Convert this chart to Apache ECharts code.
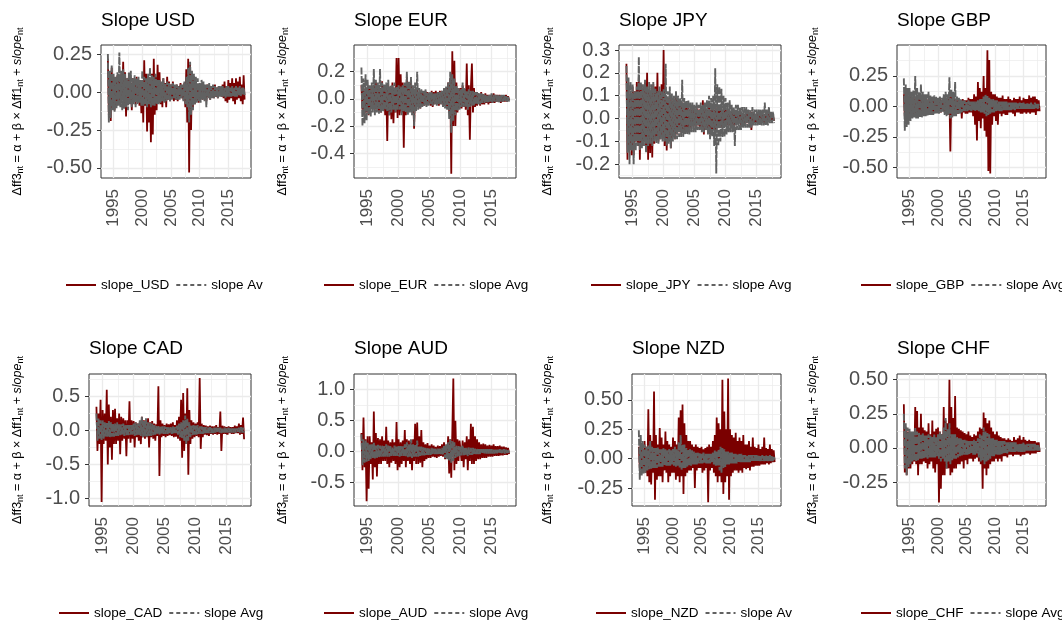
<!DOCTYPE html>
<html>
<head>
<meta charset="utf-8">
<script src="https://cdn.jsdelivr.net/npm/echarts@6/dist/echarts.min.js"></script>
<style>
html,body{margin:0;padding:0;background:#fff;}
#chart{width:1062px;height:623px;}
</style>
</head>
<body>
<div id="chart"></div>
<script>
// ---------- DATA ----------
// bimonthly observation dates, 1994 .. 2017 (6 per year)
const dates = [];
for (let y = 1994; y <= 2017; y++) { for (let k = 0; k < 6; k++) dates.push(y + k / 6); }

const currencies = ['USD', 'EUR', 'JPY', 'GBP', 'CAD', 'AUD', 'NZD', 'CHF'];
const xTicks = [1995, 2000, 2005, 2010, 2015];
const xMinor = [1997.5, 2002.5, 2007.5, 2012.5, 2017.5];

// one row per year, 1994 .. 2017
const slopeUSD = [
 0.22,-0.15,0.12,-0.19,0.16,-0.10,  0.10,-0.12,0.07,-0.09,0.11,-0.06,  0.08,-0.07,0.12,-0.05,0.20,-0.09,
 0.13,-0.16,0.09,-0.08,0.11,-0.07,  0.06,-0.12,0.09,-0.05,0.07,-0.08,  0.10,-0.06,0.05,-0.09,0.08,-0.14,
 0.07,-0.20,0.21,-0.09,0.12,-0.26,  0.10,-0.20,0.08,-0.33,0.12,-0.28,  0.22,-0.15,0.10,-0.12,0.18,-0.07,
 0.13,-0.08,0.06,-0.10,0.09,-0.05,  0.06,-0.10,0.10,-0.05,0.07,-0.06,  0.05,-0.04,0.07,-0.06,0.04,-0.05,
 0.05,-0.06,0.04,-0.03,0.06,-0.04,  0.04,-0.05,0.06,-0.10,0.15,-0.20,  0.22,-0.53,0.18,-0.25,0.12,-0.10,
 0.10,-0.08,0.07,-0.06,0.05,-0.07,  0.05,-0.04,0.06,-0.05,0.04,-0.04,  0.04,-0.06,0.05,-0.03,0.04,-0.05,
 0.04,-0.03,0.03,-0.04,0.05,-0.03,  0.03,-0.04,0.04,-0.02,0.03,-0.03,  0.05,-0.04,0.07,-0.06,0.04,-0.07,
 0.08,-0.05,0.06,-0.04,0.09,-0.06,  0.06,-0.08,0.09,-0.05,0.07,-0.04,  0.10,-0.06,0.05,-0.08,0.11,-0.05];
const avgUSD = [
 0.25,-0.20,0.14,-0.17,0.18,-0.12,  0.12,-0.13,0.10,-0.11,0.13,-0.09,  0.26,-0.10,0.14,-0.12,0.15,-0.11,
 0.12,-0.10,0.09,-0.12,0.13,-0.08,  0.14,-0.10,0.09,-0.08,0.11,-0.10,  0.09,-0.08,0.10,-0.07,0.08,-0.09,
 0.14,-0.09,0.10,-0.08,0.09,-0.10,  0.12,-0.08,0.16,-0.10,0.11,-0.09,  0.10,-0.09,0.12,-0.08,0.08,-0.08,
 0.08,-0.07,0.07,-0.06,0.09,-0.07,  0.06,-0.06,0.07,-0.05,0.06,-0.06,  0.05,-0.05,0.06,-0.04,0.05,-0.05,
 0.05,-0.05,0.04,-0.05,0.05,-0.04,  0.05,-0.06,0.07,-0.08,0.10,-0.10,  0.16,-0.20,0.20,-0.15,0.14,-0.12,
 0.12,-0.08,0.10,-0.07,0.09,-0.06,  0.06,-0.07,0.08,-0.05,0.07,-0.06,  0.05,-0.10,0.05,-0.04,0.06,-0.05,
 0.04,-0.04,0.05,-0.04,0.04,-0.03,  0.03,-0.04,0.04,-0.03,0.04,-0.03,  0.04,-0.03,0.03,-0.04,0.04,-0.03,
 0.04,-0.03,0.03,-0.03,0.04,-0.03,  0.03,-0.03,0.04,-0.03,0.03,-0.02,  0.04,-0.03,0.03,-0.02,0.03,-0.02];

const slopeEUR = [
 0.10,-0.08,0.06,-0.12,0.08,-0.10,  0.08,-0.12,0.09,-0.06,0.07,-0.07,  0.10,-0.08,0.12,-0.06,0.09,-0.09,
 0.08,-0.10,0.13,-0.07,0.10,-0.12,  0.09,-0.31,0.10,-0.12,0.07,-0.15,  0.12,-0.18,0.08,-0.10,0.30,-0.14,
 0.30,-0.12,0.18,-0.10,0.12,-0.36,  0.10,-0.12,0.16,-0.08,0.10,-0.09,  0.14,-0.10,0.08,-0.22,0.07,-0.08,
 0.07,-0.06,0.05,-0.07,0.06,-0.05,  0.05,-0.05,0.06,-0.04,0.05,-0.04,  0.04,-0.05,0.06,-0.06,0.05,-0.04,
 0.06,-0.04,0.05,-0.05,0.06,-0.04,  0.05,-0.06,0.07,-0.05,0.08,-0.07,  0.12,-0.10,0.15,-0.55,0.35,-0.20,
 0.28,-0.20,0.12,-0.10,0.08,-0.07,  0.08,-0.07,0.10,-0.06,0.07,-0.08,  0.26,-0.12,0.10,-0.30,0.08,0.26,
 -0.10,0.08,-0.06,0.05,-0.05,0.04,  0.04,-0.05,0.05,-0.04,0.03,-0.04,  0.04,-0.03,0.03,-0.04,0.03,-0.03,
 0.03,-0.03,0.04,-0.03,0.03,-0.02,  0.03,-0.02,0.03,-0.03,0.02,-0.02,  0.02,-0.02,0.03,-0.02,0.02,-0.01];
const avgEUR = [
 0.23,-0.20,0.15,-0.18,0.18,-0.16,  0.14,-0.12,0.10,-0.13,0.12,-0.10,  0.22,-0.12,0.14,-0.10,0.12,-0.11,
 0.22,-0.10,0.12,-0.09,0.11,-0.08,  0.12,-0.09,0.14,-0.12,0.10,-0.10,  0.10,-0.08,0.12,-0.10,0.09,-0.08,
 0.10,-0.08,0.09,-0.12,0.10,-0.09,  0.12,-0.10,0.20,-0.12,0.13,-0.10,  0.16,-0.12,0.10,-0.20,0.12,-0.09,
 0.20,-0.08,0.08,-0.07,0.07,-0.06,  0.06,-0.05,0.07,-0.06,0.05,-0.05,  0.05,-0.04,0.05,-0.05,0.04,-0.04,
 0.04,-0.05,0.05,-0.04,0.05,-0.04,  0.06,-0.06,0.08,-0.07,0.09,-0.08,  0.12,-0.15,0.20,-0.25,0.18,-0.16,
 0.15,-0.12,0.10,-0.09,0.08,-0.08,  0.07,-0.06,0.12,-0.06,0.08,-0.06,  0.06,-0.08,0.07,-0.06,0.06,-0.05,
 0.06,-0.05,0.05,-0.04,0.05,-0.04,  0.04,-0.04,0.04,-0.03,0.04,-0.03,  0.03,-0.03,0.03,-0.03,0.03,-0.02,
 0.04,-0.03,0.03,-0.02,0.03,-0.02,  0.03,-0.03,0.03,-0.02,0.03,-0.02,  0.03,-0.02,0.02,-0.02,0.02,-0.02];

const slopeJPY = [
 0.24,-0.18,0.15,-0.12,0.10,-0.16,  0.14,-0.16,0.12,-0.10,0.16,-0.12,  0.18,-0.18,0.15,-0.12,0.13,-0.10,
 0.16,-0.14,0.20,-0.18,0.12,-0.15,  0.12,-0.17,0.15,-0.11,0.14,-0.09,  0.20,-0.10,0.12,-0.09,0.15,-0.08,
 0.30,-0.12,0.10,-0.14,0.09,-0.10,  0.09,-0.13,0.08,-0.08,0.07,-0.09,  0.10,-0.07,0.08,-0.06,0.07,-0.06,
 0.07,-0.06,0.06,-0.05,0.05,-0.05,  0.05,-0.05,0.04,-0.04,0.05,-0.03,  0.04,-0.04,0.05,-0.03,0.04,-0.04,
 0.05,-0.04,0.08,-0.07,0.05,-0.04,  0.04,-0.05,0.05,-0.07,0.04,-0.05,  0.06,-0.05,0.04,-0.06,0.05,-0.04,
 0.05,-0.04,0.04,-0.04,0.04,-0.03,  0.04,-0.03,0.04,-0.03,0.03,-0.03,  0.03,-0.03,0.03,-0.03,0.03,-0.02,
 0.03,-0.02,0.03,-0.03,0.02,-0.02,  0.02,-0.02,0.03,-0.02,0.02,-0.02,  0.03,-0.05,0.03,-0.02,0.02,-0.02,
 0.02,-0.02,0.02,-0.02,0.02,-0.01,  0.02,-0.02,0.02,-0.02,0.02,-0.01,  0.02,-0.01,0.02,-0.01,0.01,-0.01];
const avgJPY = [
 0.23,-0.15,0.18,-0.20,0.16,-0.14,  0.15,-0.20,0.12,-0.14,0.14,-0.12,  0.27,-0.14,0.16,-0.13,0.15,-0.12,
 0.17,-0.15,0.14,-0.12,0.16,-0.11,  0.15,-0.12,0.16,-0.10,0.13,-0.11,  0.12,-0.11,0.14,-0.09,0.12,-0.10,
 0.13,-0.10,0.24,-0.12,0.12,-0.11,  0.14,-0.13,0.11,-0.10,0.10,-0.09,  0.12,-0.09,0.10,-0.08,0.09,-0.08,
 0.17,-0.08,0.09,-0.07,0.08,-0.07,  0.08,-0.07,0.07,-0.06,0.07,-0.06,  0.06,-0.06,0.07,-0.05,0.06,-0.05,
 0.07,-0.06,0.06,-0.06,0.07,-0.05,  0.08,-0.07,0.10,-0.09,0.09,-0.08,  0.10,-0.12,0.22,-0.24,0.15,-0.12,
 0.14,-0.10,0.13,-0.08,0.10,-0.08,  0.09,-0.07,0.07,-0.06,0.08,-0.06,  0.06,-0.06,0.05,-0.12,0.06,-0.05,
 0.06,-0.05,0.05,-0.05,0.05,-0.04,  0.05,-0.04,0.05,-0.04,0.04,-0.04,  0.04,-0.04,0.05,-0.03,0.04,-0.03,
 0.04,-0.03,0.04,-0.03,0.04,-0.03,  0.04,-0.03,0.07,-0.03,0.04,-0.03,  0.05,-0.02,0.03,-0.02,0.03,-0.02];

const slopeGBP = [
 0.10,-0.08,0.12,-0.10,0.07,-0.09,  0.08,-0.07,0.09,-0.08,0.06,-0.07,  0.07,-0.06,0.08,-0.06,0.07,-0.05,
 0.06,-0.07,0.07,-0.05,0.06,-0.06,  0.06,-0.05,0.05,-0.06,0.05,-0.04,  0.05,-0.05,0.06,-0.04,0.05,-0.05,
 0.05,-0.04,0.06,-0.05,0.05,-0.04,  0.06,-0.05,0.07,-0.06,0.06,-0.05,  0.08,-0.37,0.10,-0.08,0.07,-0.06,
 0.06,-0.07,0.05,-0.06,0.06,-0.05,  0.05,-0.10,0.06,-0.05,0.05,-0.06,  0.05,-0.06,0.07,-0.05,0.06,-0.05,
 0.06,-0.08,0.10,-0.15,0.08,-0.28,  0.20,-0.12,0.15,-0.18,0.12,-0.10,  0.25,-0.20,0.15,-0.25,0.46,-0.53,
 0.38,-0.55,0.12,-0.15,0.10,-0.08,  0.10,-0.12,0.08,-0.15,0.07,-0.06,  0.07,-0.08,0.09,-0.06,0.06,-0.07,
 0.06,-0.07,0.08,-0.05,0.06,-0.05,  0.05,-0.06,0.07,-0.08,0.06,-0.05,  0.06,-0.05,0.08,-0.06,0.05,-0.06,
 0.07,-0.05,0.06,-0.06,0.06,-0.05,  0.09,-0.06,0.07,-0.05,0.08,-0.05,  0.08,-0.07,0.06,-0.04,0.05,-0.04];
const avgGBP = [
 0.23,-0.20,0.18,-0.17,0.15,-0.15,  0.15,-0.12,0.12,-0.10,0.13,-0.09,  0.25,-0.10,0.15,-0.10,0.12,-0.09,
 0.18,-0.09,0.12,-0.08,0.10,-0.08,  0.10,-0.08,0.12,-0.07,0.09,-0.07,  0.08,-0.07,0.09,-0.06,0.08,-0.06,
 0.07,-0.06,0.08,-0.05,0.07,-0.05,  0.10,-0.07,0.12,-0.08,0.10,-0.07,  0.24,-0.10,0.14,-0.09,0.12,-0.08,
 0.20,-0.08,0.08,-0.06,0.07,-0.06,  0.06,-0.05,0.05,-0.04,0.05,-0.04,  0.04,-0.04,0.05,-0.03,0.04,-0.04,
 0.04,-0.03,0.04,-0.04,0.04,-0.03,  0.05,-0.04,0.06,-0.05,0.06,-0.05,  0.08,-0.06,0.10,-0.08,0.09,-0.07,
 0.07,-0.06,0.06,-0.05,0.06,-0.05,  0.05,-0.04,0.05,-0.04,0.04,-0.04,  0.04,-0.04,0.04,-0.03,0.04,-0.03,
 0.04,-0.03,0.03,-0.03,0.03,-0.03,  0.03,-0.03,0.03,-0.03,0.03,-0.02,  0.03,-0.02,0.03,-0.02,0.03,-0.02,
 0.03,-0.02,0.02,-0.02,0.03,-0.02,  0.02,-0.02,0.03,-0.02,0.02,-0.02,  0.03,-0.02,0.02,-0.02,0.02,-0.01];

const slopeCAD = [
 0.35,-0.30,0.25,-0.20,0.45,-1.05,  0.30,-0.20,0.25,-0.15,0.60,-0.50,  0.38,-0.25,0.20,-0.43,0.30,-0.20,
 0.32,-0.20,0.18,-0.15,0.25,-0.35,  0.20,-0.15,0.18,-0.12,0.15,-0.38,  0.15,-0.12,0.43,-0.18,0.15,-0.12,
 0.14,-0.25,0.12,-0.10,0.10,-0.15,  0.12,-0.20,0.20,-0.10,0.15,-0.12,  0.15,-0.10,0.18,-0.25,0.12,-0.10,
 0.14,-0.12,0.10,-0.15,0.09,-0.08,  0.65,-0.67,0.15,-0.10,0.10,-0.08,  0.08,-0.10,0.10,-0.08,0.09,-0.07,
 0.10,-0.08,0.12,-0.10,0.08,-0.09,  0.15,-0.12,0.20,-0.15,0.45,-0.40,  0.55,-0.30,0.25,-0.20,0.62,-0.65,
 0.30,-0.20,0.15,-0.12,0.12,-0.10,  0.10,-0.08,0.12,-0.10,0.77,-0.27,  0.10,-0.10,0.08,-0.06,0.07,-0.07,
 0.06,-0.08,0.07,-0.05,0.06,-0.06,  0.06,-0.05,0.08,-0.06,0.05,-0.05,  0.28,-0.30,0.07,-0.05,0.06,-0.05,
 0.05,-0.06,0.06,-0.04,0.05,-0.05,  0.05,-0.05,0.07,-0.04,0.06,-0.04,  0.10,-0.06,0.08,-0.05,0.19,-0.13];
const avgCAD = [
 0.25,-0.15,0.18,-0.12,0.15,-0.14,  0.15,-0.12,0.12,-0.10,0.11,-0.09,  0.14,-0.10,0.12,-0.09,0.10,-0.09,
 0.10,-0.08,0.12,-0.08,0.09,-0.07,  0.09,-0.07,0.10,-0.08,0.08,-0.07,  0.08,-0.07,0.09,-0.06,0.08,-0.06,
 0.10,-0.08,0.12,-0.07,0.10,-0.07,  0.15,-0.08,0.20,-0.10,0.14,-0.09,  0.18,-0.09,0.12,-0.08,0.11,-0.08,
 0.10,-0.07,0.08,-0.06,0.07,-0.06,  0.07,-0.06,0.06,-0.05,0.06,-0.05,  0.06,-0.05,0.05,-0.05,0.05,-0.04,
 0.05,-0.05,0.06,-0.05,0.05,-0.04,  0.07,-0.06,0.10,-0.10,0.12,-0.12,  0.15,-0.15,0.22,-0.20,0.18,-0.15,
 0.12,-0.10,0.08,-0.07,0.08,-0.06,  0.07,-0.06,0.08,-0.05,0.06,-0.05,  0.06,-0.05,0.05,-0.05,0.05,-0.04,
 0.04,-0.04,0.05,-0.04,0.04,-0.04,  0.04,-0.03,0.04,-0.03,0.04,-0.03,  0.04,-0.04,0.04,-0.03,0.04,-0.03,
 0.03,-0.03,0.04,-0.03,0.03,-0.03,  0.03,-0.03,0.03,-0.03,0.03,-0.02,  0.04,-0.03,0.05,-0.03,0.04,-0.03];

const slopeAUD = [
 0.30,-0.30,0.55,-0.25,0.20,-0.80,  0.25,-0.60,0.25,-0.20,0.15,-0.45,  0.65,-0.25,0.30,-0.40,0.22,-0.20,
 0.20,-0.20,0.25,-0.15,0.18,-0.15,  0.40,-0.20,0.18,-0.25,0.15,-0.18,  0.20,-0.15,0.15,-0.20,0.48,-0.30,
 0.20,-0.25,0.15,-0.20,0.18,-0.15,  0.35,-0.25,0.20,-0.15,0.18,-0.20,  0.18,-0.30,0.20,-0.15,0.45,-0.20,
 0.47,-0.20,0.25,-0.18,0.35,-0.25,  0.15,-0.15,0.12,-0.12,0.14,-0.10,  0.10,-0.10,0.12,-0.08,0.10,-0.09,
 0.08,-0.10,0.10,-0.08,0.09,-0.07,  0.12,-0.08,0.15,-0.12,0.10,-0.10,  0.25,-0.35,0.20,-0.42,0.30,1.18,
 -0.30,0.50,-0.20,0.20,-0.15,0.18,  0.20,-0.15,0.18,-0.25,0.15,-0.12,  0.25,-0.30,0.20,-0.15,0.45,-0.20,
 0.40,-0.20,0.25,-0.15,0.20,-0.12,  0.15,-0.12,0.12,-0.10,0.13,-0.10,  0.12,-0.10,0.10,-0.08,0.11,-0.08,
 0.10,-0.08,0.12,-0.07,0.09,-0.07,  0.09,-0.07,0.10,-0.06,0.08,-0.06,  0.08,-0.05,0.07,-0.05,0.06,-0.04];
const avgAUD = [
 0.28,-0.22,0.20,-0.18,0.18,-0.16,  0.15,-0.15,0.12,-0.12,0.12,-0.10,  0.15,-0.12,0.10,-0.10,0.11,-0.09,
 0.10,-0.08,0.10,-0.08,0.09,-0.08,  0.12,-0.08,0.10,-0.08,0.09,-0.07,  0.08,-0.07,0.10,-0.07,0.08,-0.07,
 0.10,-0.08,0.09,-0.07,0.09,-0.07,  0.12,-0.08,0.15,-0.09,0.12,-0.08,  0.20,-0.10,0.12,-0.08,0.11,-0.08,
 0.18,-0.08,0.08,-0.07,0.08,-0.06,  0.07,-0.06,0.06,-0.05,0.06,-0.05,  0.05,-0.05,0.06,-0.04,0.05,-0.04,
 0.05,-0.04,0.05,-0.05,0.05,-0.04,  0.06,-0.05,0.10,-0.10,0.12,-0.12,  0.15,-0.15,0.20,-0.18,0.18,-0.15,
 0.15,-0.10,0.10,-0.08,0.09,-0.07,  0.08,-0.06,0.10,-0.06,0.07,-0.06,  0.06,-0.07,0.07,-0.05,0.06,-0.05,
 0.06,-0.05,0.05,-0.04,0.05,-0.04,  0.04,-0.04,0.04,-0.03,0.04,-0.03,  0.04,-0.03,0.04,-0.03,0.04,-0.03,
 0.04,-0.03,0.03,-0.03,0.03,-0.03,  0.03,-0.03,0.04,-0.03,0.03,-0.02,  0.04,-0.03,0.03,-0.02,0.03,-0.02];

const slopeNZD = [
 0.10,-0.08,0.12,-0.10,0.08,-0.09,  0.15,-0.12,0.10,-0.15,0.42,-0.20,  0.20,-0.22,0.15,-0.12,0.57,-0.35,
 0.20,-0.18,0.12,-0.15,0.26,-0.15,  0.18,-0.20,0.12,-0.10,0.23,-0.12,  0.15,-0.20,0.12,-0.15,0.10,-0.12,
 0.18,-0.12,0.15,-0.18,0.12,-0.15,  0.35,-0.20,0.41,-0.15,0.46,-0.30,  0.30,-0.15,0.20,-0.12,0.15,-0.10,
 0.15,-0.10,0.12,-0.08,0.10,-0.25,  0.12,-0.10,0.10,-0.08,0.09,-0.08,  0.10,-0.12,0.08,-0.10,0.09,-0.08,
 0.10,-0.37,0.12,-0.10,0.10,-0.08,  0.15,-0.12,0.20,-0.15,0.35,-0.20,  0.30,-0.15,0.25,-0.20,0.67,-0.30,
 0.40,-0.20,0.25,-0.15,0.68,-0.35,  0.25,-0.15,0.20,-0.12,0.18,-0.10,  0.22,-0.10,0.15,-0.12,0.18,-0.10,
 0.15,-0.12,0.20,-0.08,0.12,-0.09,  0.12,-0.08,0.15,-0.10,0.10,-0.07,  0.18,-0.07,0.10,-0.06,0.09,-0.06,
 0.12,-0.06,0.08,-0.05,0.10,-0.05,  0.18,-0.05,0.09,-0.04,0.08,-0.05,  0.12,-0.04,0.08,-0.03,0.07,-0.03];
const avgNZD = [
 0.24,-0.18,0.20,-0.15,0.15,-0.13,  0.12,-0.12,0.10,-0.10,0.11,-0.09,  0.15,-0.09,0.10,-0.08,0.09,-0.08,
 0.09,-0.08,0.10,-0.07,0.08,-0.07,  0.08,-0.07,0.09,-0.06,0.08,-0.06,  0.07,-0.06,0.08,-0.06,0.07,-0.05,
 0.08,-0.06,0.10,-0.07,0.08,-0.06,  0.14,-0.08,0.20,-0.10,0.12,-0.08,  0.12,-0.08,0.09,-0.07,0.08,-0.06,
 0.08,-0.06,0.07,-0.05,0.06,-0.05,  0.05,-0.05,0.05,-0.04,0.05,-0.04,  0.04,-0.04,0.05,-0.04,0.04,-0.04,
 0.04,-0.04,0.04,-0.04,0.04,-0.03,  0.05,-0.05,0.07,-0.06,0.06,-0.06,  0.08,-0.10,0.10,-0.12,0.09,-0.08,
 0.08,-0.07,0.06,-0.05,0.06,-0.05,  0.05,-0.04,0.05,-0.04,0.04,-0.04,  0.04,-0.04,0.04,-0.03,0.04,-0.03,
 0.04,-0.03,0.03,-0.03,0.03,-0.03,  0.03,-0.03,0.03,-0.03,0.03,-0.02,  0.03,-0.02,0.03,-0.02,0.03,-0.02,
 0.03,-0.02,0.02,-0.02,0.03,-0.02,  0.02,-0.02,0.03,-0.02,0.02,-0.02,  0.03,-0.02,0.02,-0.02,0.02,-0.01];

const slopeCHF = [
 0.32,-0.18,0.15,-0.20,0.12,-0.15,  0.12,-0.15,0.10,-0.12,0.11,-0.10,  0.30,-0.12,0.27,-0.20,0.15,-0.12,
 0.25,-0.12,0.15,-0.10,0.13,-0.11,  0.12,-0.15,0.18,-0.12,0.10,-0.10,  0.20,-0.15,0.12,-0.18,0.14,-0.12,
 0.15,-0.40,0.12,-0.30,0.10,-0.20,  0.30,-0.20,0.20,-0.15,0.18,-0.15,  0.50,-0.20,0.30,-0.18,0.22,-0.15,
 0.38,-0.15,0.15,-0.12,0.14,-0.12,  0.13,-0.10,0.12,-0.15,0.11,-0.09,  0.10,-0.12,0.12,-0.08,0.09,-0.08,
 0.08,-0.10,0.10,-0.08,0.09,-0.07,  0.12,-0.10,0.15,-0.12,0.14,-0.30,  0.26,-0.15,0.22,-0.20,0.18,-0.15,
 0.20,-0.12,0.15,-0.10,0.12,-0.10,  0.10,-0.08,0.12,-0.10,0.09,-0.08,  0.08,-0.10,0.07,-0.06,0.07,-0.06,
 0.06,-0.07,0.07,-0.05,0.06,-0.05,  0.05,-0.06,0.08,-0.05,0.06,-0.05,  0.07,-0.05,0.09,-0.06,0.06,-0.05,
 0.08,-0.05,0.06,-0.04,0.05,-0.04,  0.06,-0.05,0.05,-0.04,0.05,-0.04,  0.05,-0.04,0.04,-0.03,0.04,-0.03];
const avgCHF = [
 0.25,-0.15,0.18,-0.20,0.15,-0.14,  0.14,-0.12,0.12,-0.10,0.12,-0.09,  0.15,-0.10,0.12,-0.09,0.11,-0.08,
 0.10,-0.08,0.11,-0.08,0.09,-0.07,  0.09,-0.08,0.10,-0.07,0.09,-0.07,  0.08,-0.07,0.10,-0.07,0.08,-0.06,
 0.10,-0.08,0.12,-0.10,0.10,-0.08,  0.15,-0.10,0.22,-0.15,0.14,-0.10,  0.18,-0.12,0.10,-0.09,0.10,-0.08,
 0.10,-0.08,0.08,-0.07,0.07,-0.06,  0.07,-0.06,0.06,-0.05,0.06,-0.05,  0.06,-0.05,0.05,-0.05,0.05,-0.04,
 0.05,-0.05,0.06,-0.05,0.05,-0.04,  0.07,-0.07,0.10,-0.10,0.09,-0.09,  0.15,-0.12,0.12,-0.10,0.11,-0.09,
 0.10,-0.08,0.07,-0.06,0.07,-0.06,  0.06,-0.05,0.06,-0.05,0.05,-0.05,  0.05,-0.05,0.05,-0.04,0.05,-0.04,
 0.04,-0.04,0.04,-0.03,0.04,-0.03,  0.04,-0.03,0.04,-0.03,0.04,-0.03,  0.03,-0.03,0.03,-0.03,0.03,-0.03,
 0.04,-0.03,0.03,-0.02,0.03,-0.02,  0.03,-0.02,0.03,-0.02,0.03,-0.02,  0.03,-0.02,0.02,-0.02,0.02,-0.02];

const slopeSeries = [slopeUSD, slopeEUR, slopeJPY, slopeGBP, slopeCAD, slopeAUD, slopeNZD, slopeCHF];
const avgSeries = [avgUSD, avgEUR, avgJPY, avgGBP, avgCAD, avgAUD, avgNZD, avgCHF];

// y-axis tick labels per panel
const yTicksUSD = [-0.5, -0.25, 0, 0.25];
const yTicksEUR = [-0.4, -0.2, 0, 0.2];
const yTicksJPY = [-0.2, -0.1, 0, 0.1, 0.2, 0.3];
const yTicksGBP = [-0.5, -0.25, 0, 0.25];
const yTicksCAD = [-1, -0.5, 0, 0.5];
const yTicksAUD = [-0.5, 0, 0.5, 1];
const yTicksNZD = [-0.25, 0, 0.25, 0.5];
const yTicksCHF = [-0.25, 0, 0.25, 0.5];
const yTicks = [yTicksUSD, yTicksEUR, yTicksJPY, yTicksGBP, yTicksCAD, yTicksAUD, yTicksNZD, yTicksCHF];
const yDecimals = [2, 1, 1, 2, 1, 1, 2, 2];
const yMinors = [
  [-0.375, -0.125, 0.125],
  [-0.5, -0.3, -0.1, 0.1, 0.3],
  [-0.25, -0.15, -0.05, 0.05, 0.15, 0.25],
  [-0.375, -0.125, 0.125, 0.375],
  [-0.75, -0.25, 0.25, 0.75],
  [-0.75, -0.25, 0.25, 0.75],
  [-0.375, -0.125, 0.125, 0.375, 0.625],
  [-0.375, -0.125, 0.125, 0.375]
];
const yRanges = [[-0.566, 0.31], [-0.582, 0.396], [-0.26, 0.322], [-0.588, 0.504],
                 [-1.11, 0.83], [-0.877, 1.254], [-0.403, 0.719], [-0.426, 0.542]];
const xRange = [1992.8, 2018.95];

// ---------- LAYOUT ----------
const layout = [
  {left: 101, top: 45,  width: 150, height: 133, tx: 18,  ty: 111.5, lx: 65,  ly: 278, tY: 11.5, avgW: 57},
  {left: 354, top: 45,  width: 162, height: 133, tx: 283, ty: 111.5, lx: 323, ly: 278, tY: 11.5, avgW: 64},
  {left: 619, top: 45,  width: 162, height: 133, tx: 548, ty: 111.5, lx: 590, ly: 278, tY: 11.5, avgW: 64},
  {left: 897, top: 45,  width: 149, height: 133, tx: 813, ty: 111.5, lx: 860, ly: 278, tY: 11.5, avgW: 64},
  {left: 89,  top: 374, width: 162, height: 132, tx: 18,  ty: 440,   lx: 58,  ly: 606, tY: 339.5, avgW: 64},
  {left: 354, top: 374, width: 162, height: 132, tx: 283, ty: 440,   lx: 323, ly: 606, tY: 339.5, avgW: 64},
  {left: 632, top: 374, width: 149, height: 132, tx: 548, ty: 440,   lx: 595, ly: 606, tY: 339.5, avgW: 57},
  {left: 897, top: 374, width: 149, height: 132, tx: 813, ty: 440,   lx: 860, ly: 606, tY: 339.5, avgW: 64}
];

const FONT = '"Liberation Sans", Arial, Helvetica, sans-serif';
const RED = '#7a0000';
const GREY = '#616161';
const TICKCOL = '#4d4d4d';
const GRIDCOL = '#ebebeb';

const grids = [], xAxes = [], yAxes = [], series = [], titles = [], legends = [], graphics = [];

layout.forEach((p, i) => {
  grids.push({left: p.left, top: p.top, width: p.width, height: p.height, show: true,
    backgroundColor: '#fff', borderColor: '#333333', borderWidth: 1});
});
// main axes
layout.forEach((p, i) => {
  xAxes.push({type: 'value', gridIndex: i, min: xRange[0], max: xRange[1], position: 'bottom',
    axisLine: {show: false},
    axisTick: {show: true, length: 4, customValues: xTicks, lineStyle: {color: '#333333', width: 1}},
    axisLabel: {show: true, customValues: xTicks, rotate: 90, margin: 11, color: TICKCOL,
      fontSize: 17, fontFamily: FONT, formatter: v => String(Math.round(v))},
    splitLine: {show: true, lineStyle: {color: GRIDCOL, width: 1.3}}
  });
  yAxes.push({type: 'value', gridIndex: i, min: yRanges[i][0], max: yRanges[i][1], position: 'left',
    axisLine: {show: false},
    axisTick: {show: true, length: 4, customValues: yTicks[i], lineStyle: {color: '#333333', width: 1}},
    axisLabel: {show: true, customValues: yTicks[i], margin: 9, color: TICKCOL,
      fontSize: 20, fontFamily: FONT, formatter: v => Number(v).toFixed(yDecimals[i])},
    splitLine: {show: true, lineStyle: {color: GRIDCOL, width: 1.3}}
  });
});
// minor grid axes
layout.forEach((p, i) => {
  xAxes.push({type: 'value', gridIndex: i, min: xRange[0], max: xRange[1], position: 'top',
    axisLine: {show: false}, axisLabel: {show: false},
    axisTick: {show: false, customValues: xMinor},
    splitLine: {show: true, lineStyle: {color: GRIDCOL, width: 0.7}}
  });
  yAxes.push({type: 'value', gridIndex: i, min: yRanges[i][0], max: yRanges[i][1], position: 'right',
    axisLine: {show: false}, axisLabel: {show: false},
    axisTick: {show: false, customValues: yMinors[i]},
    splitLine: {show: true, lineStyle: {color: GRIDCOL, width: 0.7}}
  });
});

layout.forEach((p, i) => {
  const cur = currencies[i];
  series.push({
    type: 'line', name: 'slope_' + cur, xAxisIndex: i, yAxisIndex: i,
    data: dates.map((t, k) => [t, slopeSeries[i][k]]),
    symbol: 'none', showSymbol: false, animation: false, z: 3,
    lineStyle: {color: RED, width: 1.8}, itemStyle: {color: RED}
  });
  series.push({
    type: 'line', name: 'slope Avg', xAxisIndex: i, yAxisIndex: i,
    data: dates.map((t, k) => [t, avgSeries[i][k]]),
    symbol: 'none', showSymbol: false, animation: false, z: 4,
    lineStyle: {color: GREY, width: 1.9, type: [7, 1.5]}, itemStyle: {color: GREY}
  });
  titles.push({text: 'Slope ' + cur, left: p.left, top: p.tY, padding: 0,
    textStyle: {fontSize: 19, fontWeight: 'normal', color: '#000', fontFamily: FONT}});
  legends.push({left: p.lx, top: p.ly, padding: 0, itemGap: 6, itemWidth: 30, itemHeight: 14,
    width: 400, selectedMode: false, orient: 'horizontal',
    itemStyle: {opacity: 0, borderWidth: 0},
    lineStyle: {width: 2},
    textStyle: {fontSize: 13.5, color: '#000', fontFamily: FONT},
    data: [{name: 'slope_' + cur},
           {name: 'slope Avg', lineStyle: {width: 2, type: [4, 3]},
            textStyle: {width: p.avgW, overflow: 'truncate', ellipsis: ''}}]});
  graphics.push({
    type: 'text', x: p.tx, y: p.ty, rotation: Math.PI / 2, silent: true,
    style: {
      text: '{m|Δff3}{s|nt}{m| = α + β × Δff1}{s|nt}{m| + }{i|slope}{s|nt}',
      align: 'center', verticalAlign: 'middle', textAlign: 'center', textVerticalAlign: 'middle',
      fill: '#000',
      rich: {
        m: {fontSize: 12.5, fontFamily: FONT, fill: '#000', color: '#000', lineHeight: 14},
        i: {fontSize: 12.5, fontFamily: FONT, fontStyle: 'italic', fill: '#000', color: '#000', lineHeight: 14},
        s: {fontSize: 9, fontFamily: FONT, fill: '#000', color: '#000', lineHeight: 9, verticalAlign: 'bottom'}
      }
    }
  });
});

const chart = echarts.init(document.getElementById('chart'), null, {renderer: 'canvas'});
chart.setOption({
  backgroundColor: '#ffffff',
  animation: false,
  title: titles,
  legend: legends,
  grid: grids,
  xAxis: xAxes,
  yAxis: yAxes,
  series: series,
  graphic: graphics
});
</script>
</body>
</html>
